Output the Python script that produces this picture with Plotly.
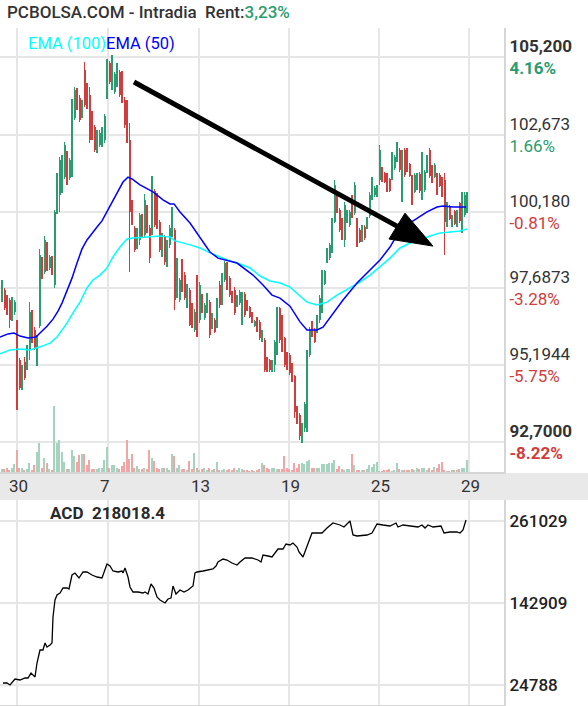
import plotly.graph_objects as go

GREEN = "#2b9c6f"
RED = "#d13c3c"
VOL_GREEN = "#a6d3be"
VOL_RED = "#f2a5a5"
GRID = "#e6e6e6"
AXIS_LINE = "#d6d6d6"
TEXT = "#333333"
FONT = "Roboto, sans-serif"

W, H = 588, 706

# intraday bars, oldest first
OPEN = [97.31, 97.63, 97.41, 97.31, 96.69, 96.92, 96.56, 95.36, 94.45, 95.30,
        95.13, 95.69, 96.92, 96.34, 95.69, 96.46, 98.64, 98.22, 99.13, 98.35,
        98.67, 97.80, 100.17, 100.72, 101.21, 101.30, 102.08, 101.27, 101.53, 103.22,
        104.13, 103.87, 103.25, 104.78, 104.29, 103.97, 103.38, 102.93, 102.18, 102.34,
        102.34, 102.51, 103.90, 105.01, 104.29, 104.06, 104.29, 104.71, 104.62, 103.80,
        103.48, 102.51, 100.46, 99.65, 99.03, 99.26, 100.04, 99.42, 100.33, 99.65,
        99.49, 100.85, 100.39, 99.84, 98.77, 99.36, 98.54, 99.10, 99.52, 99.58,
        97.47, 97.31, 98.54, 98.12, 97.15, 97.63, 97.15, 96.34, 97.89, 96.66,
        97.44, 96.73, 96.99, 97.24, 96.40, 96.66, 96.50, 97.80, 97.24, 97.96,
        98.45, 98.02, 97.54, 97.63, 97.11, 97.21, 96.66, 97.50, 97.24, 97.08,
        96.89, 96.46, 96.73, 96.60, 95.98, 96.01, 95.43, 95.36, 95.01, 95.20,
        95.69, 97.05, 96.73, 96.08, 95.59, 95.53, 95.23, 94.84, 93.80, 93.58,
        92.77, 93.15, 93.90, 95.53, 96.60, 96.34, 96.27, 96.66, 97.15, 97.83,
        98.54, 98.67, 98.93, 99.84, 100.79, 100.23, 99.91, 99.26, 99.84, 99.75,
        100.65, 100.14, 99.91, 99.58, 99.26, 99.68, 99.65, 100.04, 100.62, 100.72,
        100.69, 101.21, 101.60, 101.43, 101.37, 101.24, 101.27, 101.60, 101.86, 102.18,
        100.72, 102.18, 102.12, 101.73, 101.34, 100.82, 100.95, 101.40, 100.88, 100.88,
        101.47, 102.18, 101.66, 101.30, 101.40, 101.37, 101.27, 101.21, 99.75, 100.36,
        99.71, 100.20, 99.71, 100.46, 99.58, 100.07, 100.23]
HIGH = [97.96, 97.70, 97.47, 97.37, 97.41, 97.31, 96.66, 95.43, 95.20, 95.46,
        95.85, 97.24, 96.99, 96.43, 96.17, 98.97, 98.71, 99.39, 99.19, 98.77,
        98.74, 100.23, 101.43, 101.95, 102.02, 102.44, 102.15, 101.92, 103.84, 104.23,
        104.19, 103.97, 103.80, 105.04, 104.36, 104.23, 103.45, 102.99, 102.83, 102.83,
        102.93, 103.35, 105.14, 105.07, 105.27, 104.71, 105.01, 104.78, 104.75, 103.90,
        103.80, 103.06, 100.56, 99.71, 99.65, 100.14, 100.10, 100.75, 100.39, 99.75,
        101.34, 100.92, 100.79, 99.91, 99.49, 99.42, 99.26, 99.75, 100.33, 99.65,
        98.67, 98.02, 98.64, 98.22, 97.83, 97.70, 97.21, 97.02, 98.12, 97.89,
        97.50, 97.21, 97.54, 97.31, 96.89, 96.73, 97.37, 97.93, 98.19, 98.58,
        98.54, 98.09, 97.60, 97.73, 97.47, 97.63, 97.57, 97.57, 97.31, 97.11,
        96.92, 96.66, 96.76, 96.66, 96.34, 96.08, 95.46, 95.40, 95.36, 96.01,
        97.08, 97.08, 96.82, 96.11, 95.62, 95.59, 95.27, 94.88, 93.87, 93.64,
        93.32, 94.00, 95.69, 96.43, 96.63, 96.40, 96.82, 97.47, 98.29, 98.29,
        99.00, 99.16, 99.97, 101.21, 100.85, 100.30, 99.97, 100.49, 100.23, 100.23,
        100.72, 101.14, 99.97, 99.65, 99.75, 99.75, 100.01, 100.82, 101.30, 101.01,
        101.05, 102.34, 101.63, 101.47, 101.43, 101.27, 102.12, 102.02, 102.44, 102.25,
        102.18, 102.25, 102.25, 101.76, 101.37, 101.43, 101.43, 101.47, 102.12, 101.53,
        102.02, 102.25, 101.69, 101.76, 101.43, 101.43, 101.30, 101.43, 100.49, 100.39,
        100.07, 100.23, 100.23, 100.49, 100.82, 100.82, 100.82]
LOW = [97.24, 96.99, 96.82, 96.40, 96.63, 96.82, 93.74, 94.39, 94.39, 94.71,
       95.04, 95.36, 95.91, 95.69, 95.17, 96.40, 97.99, 98.15, 98.25, 98.29,
       98.12, 97.70, 100.10, 100.17, 100.79, 101.24, 101.05, 101.21, 101.30, 103.16,
       103.48, 103.09, 103.22, 103.58, 103.51, 102.41, 102.51, 102.12, 102.08, 102.28,
       102.28, 102.41, 103.84, 104.32, 104.13, 104.00, 104.23, 103.90, 103.71, 102.89,
       102.41, 98.22, 99.75, 98.87, 98.97, 99.10, 99.36, 99.32, 99.49, 98.51,
       99.42, 99.68, 99.62, 98.87, 98.71, 98.45, 98.38, 99.00, 99.36, 96.99,
       97.37, 97.24, 97.57, 97.31, 97.05, 96.46, 96.40, 96.27, 96.11, 96.56,
       96.89, 96.66, 96.89, 96.08, 96.37, 96.24, 96.40, 97.05, 97.15, 97.89,
       97.63, 97.41, 97.21, 96.82, 97.08, 97.15, 96.50, 96.76, 96.95, 96.73,
       96.56, 96.43, 96.27, 96.01, 95.95, 94.97, 94.97, 94.97, 94.97, 94.97,
       95.53, 95.91, 95.62, 95.13, 95.04, 94.88, 94.65, 93.48, 93.28, 92.77,
       92.67, 93.02, 93.02, 95.46, 96.11, 95.91, 96.24, 96.56, 96.89, 97.80,
       98.51, 98.61, 98.84, 99.81, 100.14, 99.52, 99.26, 99.03, 99.81, 99.68,
       99.97, 100.07, 99.03, 99.16, 99.19, 99.26, 99.62, 99.97, 100.56, 100.65,
       100.65, 101.05, 101.14, 101.11, 100.82, 100.82, 101.21, 101.53, 101.79, 101.47,
       100.49, 101.30, 101.47, 101.30, 100.39, 100.79, 100.88, 100.79, 100.56, 100.82,
       101.43, 101.27, 101.11, 101.27, 100.72, 100.98, 100.65, 98.77, 99.68, 99.91,
       99.68, 99.75, 99.68, 99.81, 99.49, 100.01, 100.14]
CLOSE = [97.89, 97.05, 96.92, 96.66, 97.34, 97.24, 94.23, 94.45, 95.13, 94.78,
         95.79, 96.92, 96.01, 95.75, 96.11, 98.77, 98.06, 99.26, 98.35, 98.71,
         98.22, 100.17, 101.37, 101.86, 101.95, 102.34, 101.11, 101.86, 103.80, 104.13,
         103.54, 103.16, 103.74, 103.64, 103.58, 102.51, 102.57, 102.18, 102.77, 102.73,
         102.89, 103.29, 105.04, 104.39, 105.17, 104.65, 104.91, 103.97, 103.80, 102.99,
         102.51, 100.17, 99.84, 98.93, 99.58, 100.07, 99.42, 100.56, 99.58, 98.67,
         101.05, 99.75, 99.68, 98.93, 99.42, 98.54, 99.19, 99.65, 100.23, 97.31,
         98.54, 97.96, 97.63, 97.37, 97.73, 96.50, 96.46, 96.92, 96.34, 97.80,
         96.92, 97.15, 97.47, 96.17, 96.82, 96.27, 97.31, 97.15, 98.09, 98.51,
         97.70, 97.47, 97.28, 96.89, 97.44, 97.57, 97.50, 96.82, 96.99, 96.76,
         96.60, 96.63, 96.34, 96.08, 96.30, 95.04, 95.01, 95.04, 95.33, 95.95,
         96.99, 96.01, 95.69, 95.20, 95.10, 94.94, 94.71, 93.68, 93.35, 92.90,
         93.25, 93.93, 95.62, 96.34, 96.14, 95.95, 96.73, 97.37, 98.12, 98.25,
         98.93, 99.10, 99.84, 101.05, 100.17, 99.58, 99.32, 100.39, 100.17, 100.17,
         100.04, 101.05, 99.10, 99.19, 99.65, 99.32, 99.94, 100.72, 101.21, 100.95,
         100.98, 102.18, 101.17, 101.14, 100.88, 100.85, 102.02, 101.95, 102.34, 101.53,
         102.02, 101.37, 101.53, 101.34, 100.56, 101.37, 101.34, 100.85, 101.92, 101.47,
         101.92, 101.34, 101.14, 101.69, 100.79, 101.01, 100.72, 99.84, 100.39, 99.94,
         100.04, 99.78, 100.17, 99.88, 100.72, 100.72, 100.56]
VOLUME_K = [3, 3, 4, 2, 4, 8, 22, 4, 4, 2,
            3, 9, 2, 7, 20, 29, 4, 14, 9, 3,
            2, 66, 29, 32, 20, 10, 3, 3, 22, 16,
            10, 17, 18, 18, 7, 12, 3, 3, 3, 4,
            4, 12, 25, 4, 7, 7, 4, 3, 6, 10,
            32, 13, 18, 4, 6, 3, 3, 4, 3, 22,
            14, 11, 4, 3, 4, 4, 4, 2, 18, 16,
            4, 7, 3, 3, 2, 11, 3, 19, 4, 2,
            3, 4, 2, 4, 2, 3, 10, 2, 2, 3,
            2, 3, 2, 4, 2, 4, 3, 2, 2, 1,
            2, 1, 2, 3, 9, 7, 4, 3, 4, 4,
            3, 3, 3, 16, 4, 3, 2, 9, 4, 8,
            9, 8, 11, 12, 4, 4, 4, 4, 8, 8,
            8, 9, 9, 12, 3, 6, 3, 2, 3, 3,
            18, 7, 2, 2, 2, 2, 3, 7, 5, 8,
            10, 1, 1, 2, 2, 3, 1, 2, 9, 3,
            2, 2, 2, 2, 3, 2, 4, 3, 4, 4,
            2, 4, 2, 5, 4, 8, 10, 2, 1, 1,
            2, 2, 2, 3, 4, 4, 12]

# session labels (bar position -> day of month)
DATE_POS = [6, 42.4, 78.8, 114.8, 150.8, 186.8]
DATE_LABELS = ["30", "7", "13", "19", "25", "29"]

EMA50_X = [-0.8, 2.4, 4.8, 7.2, 10.4, 13.6, 15.2, 18.0, 20.4, 22.4, 24.0, 26.0, 28.0, 30.0,
           32.0, 34.0, 36.0, 38.0, 40.0, 42.0, 44.0, 46.0, 48.4, 50.4, 52.0, 55.2, 60.4, 64.4,
           67.2, 68.8, 71.2, 75.2, 79.2, 83.2, 86.4, 89.2, 94.0, 100.4, 104.4, 108.0, 111.2,
           115.2, 119.2, 122.0, 126.0, 128.4, 132.4, 136.4, 142.0, 147.2, 151.2, 155.2, 158.0,
           162.0, 166.0, 170.0, 174.0, 176.4, 180.4, 185.6]
EMA50_Y = [96.11, 96.21, 96.24, 96.14, 96.08, 96.11, 96.24, 96.46, 96.69, 96.95, 97.21, 97.60,
           98.02, 98.51, 98.97, 99.26, 99.49, 99.68, 99.88, 100.17, 100.49, 100.79, 101.14,
           101.30, 101.24, 101.05, 100.82, 100.56, 100.43, 100.43, 100.17, 99.81, 99.32, 98.87,
           98.67, 98.61, 98.51, 98.12, 97.80, 97.47, 97.37, 97.11, 96.60, 96.34, 96.34, 96.43,
           96.89, 97.31, 97.86, 98.29, 98.61, 99.03, 99.42, 99.75, 99.97, 100.17, 100.33,
           100.36, 100.33, 100.33]
EMA100_X = [-0.8, 3.2, 7.2, 11.2, 15.2, 19.2, 22.0, 26.0, 28.4, 31.2, 34.0, 36.4, 39.2, 42.0,
            44.4, 47.2, 50.0, 52.4, 58.0, 63.2, 67.2, 69.2, 75.2, 79.2, 83.2, 87.2, 91.2, 95.2,
            99.2, 103.2, 107.2, 111.2, 115.2, 119.2, 122.0, 126.0, 130.0, 134.0, 139.2, 143.2,
            147.2, 151.2, 155.2, 159.2, 163.2, 167.2, 171.2, 175.2, 179.2, 183.2, 186.0]
EMA100_Y = [95.56, 95.69, 95.72, 95.69, 95.79, 95.91, 96.11, 96.56, 96.89, 97.24, 97.70, 97.96,
            98.12, 98.35, 98.71, 99.03, 99.29, 99.32, 99.36, 99.39, 99.36, 99.23, 99.10, 99.00,
            98.84, 98.71, 98.58, 98.48, 98.35, 98.09, 97.93, 97.86, 97.73, 97.44, 97.24, 97.15,
            97.24, 97.47, 97.70, 97.89, 98.12, 98.38, 98.67, 99.00, 99.16, 99.26, 99.39, 99.49,
            99.52, 99.55, 99.62]

# accumulation / distribution line
ACD_X = [0.4, 2.0, 3.2, 5.2, 7.2, 9.2, 10.4, 11.6, 13.2, 14.0, 15.2, 16.4, 17.2, 18.0, 19.2,
         20.0, 20.4, 21.2, 22.0, 23.2, 24.4, 26.0, 26.8, 28.0, 29.2, 30.8, 32.4, 34.0, 36.0,
         38.0, 40.0, 40.8, 42.0, 43.2, 44.4, 46.4, 48.0, 48.4, 49.2, 50.4, 51.2, 52.4, 54.4,
         56.4, 57.2, 58.4, 59.6, 60.8, 62.0, 63.2, 65.2, 66.4, 67.6, 68.4, 69.6, 71.2, 72.8,
         74.4, 76.4, 77.2, 78.0, 80.4, 82.4, 84.4, 85.6, 86.4, 88.4, 90.0, 92.0, 94.0, 95.2,
         97.2, 100.0, 102.4, 103.6, 104.4, 106.4, 108.0, 109.2, 110.4, 112.4, 113.6, 115.2,
         116.4, 118.0, 118.8, 120.4, 122.4, 124.0, 126.0, 128.0, 130.0, 132.4, 135.2, 136.8,
         139.2, 140.4, 142.0, 146.0, 148.0, 150.0, 152.4, 155.2, 157.6, 158.4, 160.4, 163.2,
         166.4, 168.0, 169.2, 170.4, 172.4, 175.6, 176.8, 179.2, 182.0, 183.2, 184.4, 185.6]
ACD_Y = [27668, 27668, 24788, 33430, 31990, 34870, 34870, 41877, 36307, 56478, 75204, 75204,
         85288, 79526, 82407, 85288, 122741, 147229, 154432, 157313, 164515, 164515, 163075,
         183242, 186123, 178920, 187564, 187564, 183242, 180361, 178920, 186123, 199087,
         196206, 189004, 187564, 189004, 186123, 193325, 180361, 165956, 158753, 158753,
         157313, 158753, 155873, 170277, 164515, 151552, 147229, 142909, 148671, 150112,
         167396, 155873, 161634, 158753, 161634, 167396, 186123, 187564, 189004, 190445,
         191885, 196206, 201968, 206290, 204849, 200528, 197647, 201968, 207730, 207730,
         204849, 201968, 212052, 210611, 209171, 214933, 220695, 220695, 227898, 226457,
         229338, 223576, 216373, 209171, 229338, 243743, 243743, 243743, 250946, 258148,
         255267, 252386, 261029, 240863, 239422, 240863, 243743, 256708, 255267, 253827,
         258148, 252386, 255267, 253827, 252386, 255267, 250946, 255267, 252386, 253827,
         243743, 245184, 245184, 243743, 248065, 262470]
ACD_LAST = "218018.4"

PRICE_TICKS = [105.2, 102.673, 100.18, 97.6873, 95.1944, 92.7]
PRICE_LABELS = ["105,200", "102,673", "100,180", "97,6873", "95,1944", "92,7000"]
PCT_LABELS = ["4.16%", "1.66%", "-0.81%", "-3.28%", "-5.75%", "-8.22%"]
ACD_TICKS = [261029, 142909, 24788]
RENT = "3,23%"

# hand-drawn trend arrow (bar position, price)
ARROW_START = (52.8, 104.39)
ARROW_BASE = (158.0, 99.71)
ARROW_HEAD = [(172.4, 99.06), (161.2, 100.13), (154.8, 99.29)]


def py(px):
    """paper y from a pixel row counted from the top"""
    return 1 - px / H


def price_tick(k):
    color = RED if PCT_LABELS[k].startswith("-") else GREEN
    val, pct = PRICE_LABELS[k], PCT_LABELS[k]
    if k in (0, len(PRICE_TICKS) - 1):
        val, pct = f"<b>{val}</b>", f"<b>{pct}</b>"
    return f"{val}<br><span style='color:{color}'>{pct}</span>"


bars = list(range(len(CLOSE)))
up = [c >= o for o, c in zip(OPEN, CLOSE)]
candle_colors = [GREEN if u else RED for u in up]
vol_colors = [VOL_GREEN if u else VOL_RED for u in up]

fig = go.Figure()
fig.add_trace(go.Bar(
    x=bars, y=VOLUME_K, marker=dict(color=vol_colors, line=dict(width=0)),
    width=0.45, xaxis="x", yaxis="y3", showlegend=False, hoverinfo="skip",
))
# candles drawn as two bar layers: 1px wick (low..high) and 2px body (open..close)
fig.add_trace(go.Bar(
    x=bars, base=LOW, y=[h - l for h, l in zip(HIGH, LOW)],
    marker=dict(color=candle_colors, line=dict(width=0)), width=0.4,
    xaxis="x", yaxis="y", showlegend=False, hoverinfo="skip",
))
fig.add_trace(go.Bar(
    x=bars, base=[min(o, c) for o, c in zip(OPEN, CLOSE)],
    y=[abs(c - o) for o, c in zip(OPEN, CLOSE)],
    marker=dict(color=candle_colors, line=dict(width=0)), width=0.8,
    customdata=list(zip(OPEN, HIGH, LOW, CLOSE)),
    hovertemplate="O %{customdata[0]}<br>H %{customdata[1]}<br>L %{customdata[2]}"
                  "<br>C %{customdata[3]}<extra></extra>",
    xaxis="x", yaxis="y", showlegend=False,
))
fig.add_trace(go.Scatter(
    x=EMA100_X, y=EMA100_Y, mode="lines", line=dict(color="#00ffff", width=1.5),
    xaxis="x", yaxis="y", showlegend=False,
))
fig.add_trace(go.Scatter(
    x=EMA50_X, y=EMA50_Y, mode="lines", line=dict(color="#0000ff", width=1.5),
    xaxis="x", yaxis="y", showlegend=False,
))
fig.add_trace(go.Scatter(
    x=ACD_X, y=ACD_Y, mode="lines", line=dict(color="#000000", width=1.3),
    xaxis="x2", yaxis="y2", showlegend=False,
))

x_dom = [0, 504 / W]
fig.update_layout(
    width=W, height=H,
    margin=dict(l=0, r=0, t=0, b=0),
    paper_bgcolor="white", plot_bgcolor="white",
    font=dict(family=FONT, size=17, color=TEXT),
    barmode="overlay", bargap=0,
    xaxis=dict(
        domain=x_dom, range=[-0.8, 200.8], anchor="y", automargin=False,
        tickvals=DATE_POS, showticklabels=False, ticks="",
        showgrid=True, gridcolor=GRID, gridwidth=2, zeroline=False,
        showline=True, linecolor=AXIS_LINE, linewidth=2,
    ),
    yaxis=dict(
        domain=[py(472), py(28)], range=[91.726, 106.142], side="right", automargin=False,
        tickvals=PRICE_TICKS, ticktext=[price_tick(k) for k in range(len(PRICE_TICKS))],
        tickfont=dict(family=FONT, size=17, color=TEXT), ticks="",
        showgrid=True, gridcolor=GRID, gridwidth=2, zeroline=False,
        showline=True, linecolor=AXIS_LINE, linewidth=2,
    ),
    yaxis3=dict(overlaying="y", range=[0, 444], visible=False),
    xaxis2=dict(
        domain=x_dom, matches="x", anchor="y2", automargin=False,
        tickvals=DATE_POS, showticklabels=False, ticks="",
        showgrid=True, gridcolor=GRID, gridwidth=2, zeroline=False,
        showline=True, linecolor=AXIS_LINE, linewidth=2,
    ),
    yaxis2=dict(
        domain=[py(705), py(500)], range=[-4023, 291280], side="right", automargin=False,
        tickvals=ACD_TICKS, ticktext=[str(v) for v in ACD_TICKS],
        tickfont=dict(family=FONT, size=17, color="#222222", weight=500), ticks="",
        showgrid=True, gridcolor=GRID, gridwidth=2, zeroline=False,
        showline=True, linecolor=AXIS_LINE, linewidth=2,
    ),
)

shapes = [
    dict(type="rect", xref="paper", yref="paper", x0=0, x1=1, y0=py(500), y1=py(473),
         fillcolor="#e9e9e9", line=dict(width=0), layer="below"),
    dict(type="line", xref="x", yref="y", x0=ARROW_START[0], y0=ARROW_START[1],
         x1=ARROW_BASE[0], y1=ARROW_BASE[1], line=dict(color="black", width=5)),
    dict(type="path", xref="x", yref="y",
         path="M {} {} L {} {} L {} {} Z".format(*[v for p in ARROW_HEAD for v in p]),
         fillcolor="black", line=dict(color="black", width=1)),
]
fig.update_layout(shapes=shapes)

annotations = [
    dict(text=f"PCBOLSA.COM - Intradia\u00a0 Rent:<span style='color:{GREEN}'>{RENT}</span>",
         xref="paper", yref="paper", x=5 / W, y=py(12), xanchor="left", yanchor="middle",
         showarrow=False, font=dict(family=FONT, size=17, color=TEXT, weight=500)),
    dict(text="<span style='color:#00ffff'>EMA (100)</span><span style='color:#0000ff'>EMA (50)</span>",
         xref="paper", yref="paper", x=26 / W, y=py(43), xanchor="left", yanchor="middle",
         showarrow=False, font=dict(family=FONT, size=16.5)),
    dict(text=f"<b>ACD\u00a0 {ACD_LAST}</b>",
         xref="paper", yref="paper", x=48 / W, y=py(513), xanchor="left", yanchor="middle",
         showarrow=False, font=dict(family=FONT, size=17, color="#2a2a2a")),
]
for pos, lab in zip(DATE_POS, DATE_LABELS):
    annotations.append(dict(
        text=lab, xref="x", yref="paper", x=pos - 4, y=py(486),
        xanchor="left", yanchor="middle", showarrow=False,
        font=dict(family=FONT, size=17, color=TEXT),
    ))
fig.update_layout(annotations=annotations)

# the page body has a default 8px margin; drop it so the figure sits at the corner
fig.write_html("out.html", config={"displayModeBar": False},
               post_script="document.body.style.margin='0';")
